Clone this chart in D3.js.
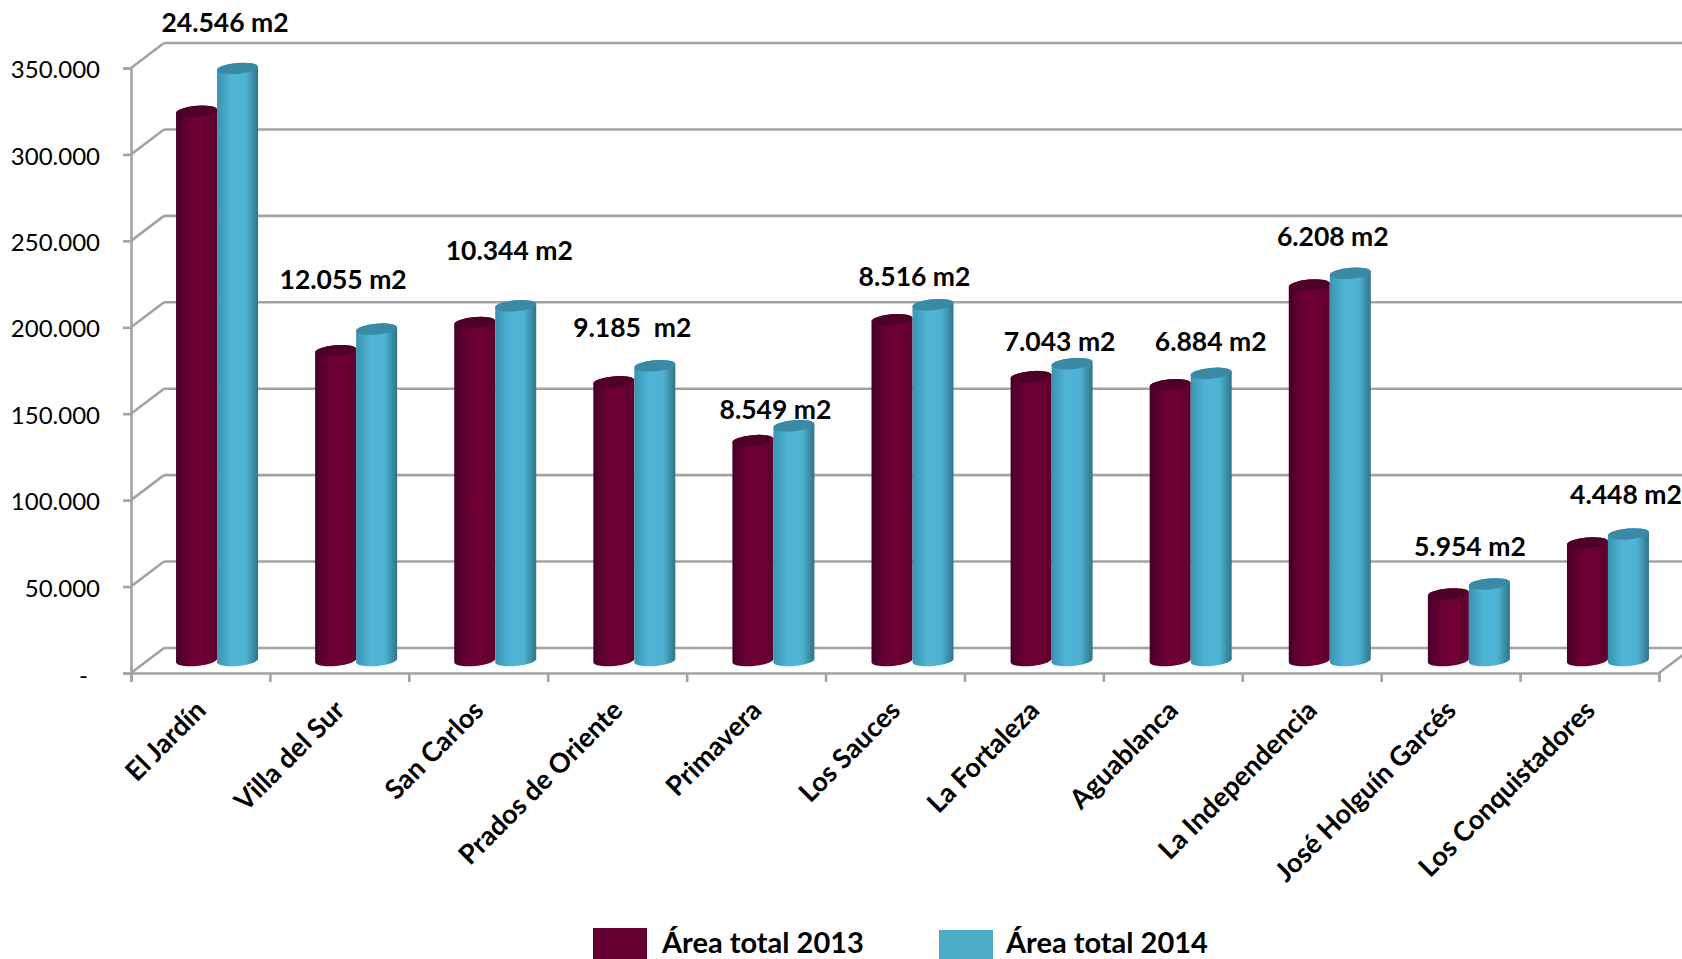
<!DOCTYPE html>
<html>
<head>
<meta charset="utf-8">
<script src="https://d3js.org/d3.v7.min.js"></script>
<style>
  body { margin: 0; background: #fff; }
  text { font-family: Lato, "Open Sans", sans-serif; fill: #000; }
</style>
</head>
<body>
<div id="chart"></div>
<script>
const categories = ["El Jardín", "Villa del Sur", "San Carlos", "Prados de Oriente", "Primavera", "Los Sauces",
                    "La Fortaleza", "Aguablanca", "La Independencia", "José Holguín Garcés", "Los Conquistadores"];
const area2013 = [317700, 179200, 195500, 161200, 127200, 197100, 164200, 159500, 217200, 38500, 68000];
const area2014 = [342500, 191700, 205200, 170500, 135800, 205800, 171700, 166100, 224000, 44300, 73200];
const annotations = ["24.546 m2", "12.055 m2", "10.344 m2", "9.185  m2", "8.549 m2", "8.516 m2",
                     "7.043 m2", "6.884 m2", "6.208 m2", "5.954 m2", "4.448 m2"];
const yTicks = [0, 50000, 100000, 150000, 200000, 250000, 300000, 350000];
const legendNames = ["Área total 2013", "Área total 2014"];

// annotations were placed by hand in the original, so each one has its own offset from the 2014 bar top
const labelDx = [8, -13, 14, -2, 2, 2, 8, 20, 3, 1, 18];
const labelDy = [-36, -40, -46, -29, -7, -19, -13, -22, -27, -28, -30];

const width = 1682, height = 959;
const plot = {left: 131, right: 1659, top: 68, bottom: 673};
const depth = {x: 33, y: 25};
const barBase = 660.5, barWidth = 41, capRy = 5.5, tilt = 2;
const gridColor = "#a3a3a3";

const svg = d3.select("#chart").append("svg")
    .attr("width", width)
    .attr("height", height)
    .style("display", "block");

const x = d3.scaleBand().domain(categories).range([plot.left, plot.right]);
// the cylinders stand mid depth so they run on a slightly wider band than the front axis
const barX = d3.scaleBand().domain(categories).range([147.5, 1677.5]);
const y = d3.scaleLinear().domain([0, 350000]).range([plot.bottom, plot.top]);
const yBar = d3.scaleLinear().domain([0, 350000]).range([barBase, barBase - (plot.bottom - plot.top)]);

const fmt = d3.formatLocale({decimal: ",", thousands: ".", grouping: [3], currency: ["", ""]}).format(",d");

// gradients for the cylinders
const defs = svg.append("defs");
function addGradient(id, stops) {
    const g = defs.append("linearGradient").attr("id", id);
    stops.forEach(s => g.append("stop").attr("offset", s[0]).attr("stop-color", s[1]));
}
addGradient("grad2013", [[0, "#45002a"], [0.3, "#670032"], [0.6, "#700035"], [1, "#5f002d"]]);
addGradient("grad2014", [[0, "#3a93b0"], [0.35, "#4fb4d6"], [0.7, "#4eb3d3"], [1, "#2f7488"]]);

// back wall and side lines
const grid = svg.append("g");
grid.selectAll("line.back").data(yTicks).enter().append("line")
    .attr("class", "back")
    .attr("x1", plot.left + depth.x)
    .attr("x2", plot.right + depth.x)
    .attr("y1", d => y(d) - depth.y)
    .attr("y2", d => y(d) - depth.y);
grid.selectAll("line.side").data(yTicks).enter().append("line")
    .attr("class", "side")
    .attr("x1", plot.left)
    .attr("x2", plot.left + depth.x)
    .attr("y1", d => y(d))
    .attr("y2", d => y(d) - depth.y);
grid.append("line")
    .attr("x1", plot.right)
    .attr("x2", plot.right + depth.x)
    .attr("y1", y(0))
    .attr("y2", y(0) - depth.y);
grid.selectAll("line").attr("stroke", gridColor).attr("stroke-width", 2.6);

// axes
const yAxis = svg.append("g")
    .attr("transform", "translate(" + plot.left + ",0)")
    .call(d3.axisLeft(y).tickValues(yTicks).tickSize(8).tickPadding(23).tickFormat(d => d === 0 ? "-" : fmt(d)));
yAxis.selectAll("text").style("font-size", "24px").attr("dy", "0.4em");
yAxis.selectAll("text").filter(d => d === 0).attr("dx", -12).attr("dy", "0.42em");

const xTickPositions = d3.range(categories.length + 1).map(i => plot.left + i * x.bandwidth());
svg.append("g")
    .attr("transform", "translate(0," + plot.bottom + ")")
    .call(d3.axisBottom(d3.scaleLinear().domain([plot.left, plot.right]).range([plot.left, plot.right]))
        .tickValues(xTickPositions).tickSize(9).tickFormat(""));
svg.selectAll(".domain, .tick line").attr("stroke", gridColor).attr("stroke-width", 2.6);

// category labels
svg.append("g").selectAll("text").data(categories).enter().append("text")
    .attr("transform", d => "translate(" + (x(d) + x.bandwidth() / 2 + 7) + "," + (plot.bottom + 39) + ") rotate(-45)")
    .attr("text-anchor", "end")
    .style("font-size", "27px")
    .style("font-weight", 700)
    .text(d => d);

// cylinder body, ends tilted a little like the original 3d perspective
function cylinderPath(cx, top) {
    const rx = barWidth / 2, l = cx - rx, r = cx + rx;
    return "M" + l + "," + (top + tilt) +
        "L" + l + "," + (barBase + tilt) +
        "A" + rx + "," + capRy + " -5 0 0 " + r + "," + (barBase - tilt) +
        "L" + r + "," + (top - tilt) +
        "A" + rx + "," + capRy + " -5 0 0 " + l + "," + (top + tilt) + "Z";
}

function drawBars(values, offset, gradId, capColor) {
    const g = svg.append("g");
    const cx = i => barX(categories[i]) + barX.bandwidth() / 2 + offset;
    g.selectAll("path").data(values).enter().append("path")
        .attr("d", (d, i) => cylinderPath(cx(i), yBar(d)))
        .attr("fill", "url(#" + gradId + ")");
    g.selectAll("ellipse").data(values).enter().append("ellipse")
        .attr("transform", (d, i) => "translate(" + cx(i) + "," + yBar(d) + ") rotate(-5)")
        .attr("rx", barWidth / 2)
        .attr("ry", capRy)
        .attr("fill", capColor);
}
drawBars(area2013, -barWidth / 2, "grad2013", "#4f0028");
drawBars(area2014, barWidth / 2, "grad2014", "#3a8aa6");

// hand placed annotations
svg.append("g").selectAll("text").data(annotations).enter().append("text")
    .attr("x", (d, i) => barX(categories[i]) + barX.bandwidth() / 2 + labelDx[i])
    .attr("y", (d, i) => yBar(area2014[i]) + labelDy[i])
    .attr("text-anchor", "middle")
    .style("white-space", "pre")
    .style("font-size", "26.5px")
    .style("font-weight", 700)
    .text(d => d);

// legend
const legendX = [593, 939], legendY = [928, 930], legendColors = ["#660033", "#4bacc6"];
const legend = svg.append("g").selectAll("g").data(legendNames).enter().append("g");
legend.append("rect")
    .attr("x", (d, i) => legendX[i])
    .attr("y", (d, i) => legendY[i])
    .attr("width", 54)
    .attr("height", (d, i) => height - legendY[i])
    .attr("fill", (d, i) => legendColors[i]);
legend.append("text")
    .attr("x", (d, i) => legendX[i] + (i === 0 ? 69 : 67))
    .attr("y", 953)
    .style("font-size", "29px")
    .style("font-weight", 700)
    .text(d => d);
</script>
</body>
</html>
